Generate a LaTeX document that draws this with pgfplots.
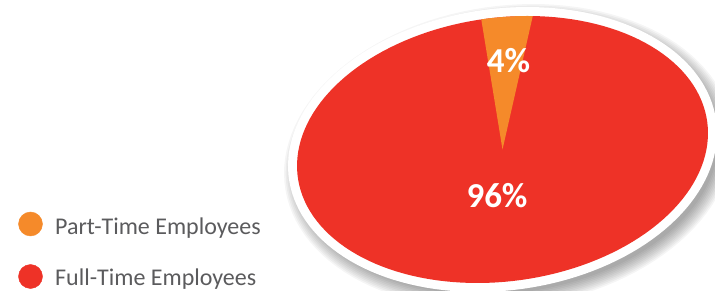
\documentclass[border=0pt]{standalone}
\usepackage{pgfplots}
\pgfplotsset{compat=1.18}
\usepackage{pgfplotstable}
\usepackage{fontspec}
\setmainfont{Carlito}
\definecolor{ptorange}{HTML}{F58A2A}
\definecolor{ftred}{HTML}{EE3227}
\definecolor{legtext}{HTML}{5B5B5D}

\pgfplotstableread{
label value
Part-Time 4
Full-Time 96
}\piedata

\begin{document}
\begin{tikzpicture}
\pgfplotstablegetelem{0}{value}\of\piedata \let\vPart\pgfplotsretval
\pgfplotstablegetelem{1}{value}\of\piedata \let\vFull\pgfplotsretval
\pgfmathsetmacro{\tStart}{76.6}
\pgfmathsetmacro{\tEnd}{\tStart+360*\vPart/(\vPart+\vFull)}
\def\cx{502.5}\def\cy{149.5}\def\ea{206.6}\def\eb{131.8}\def\rot{7.7}
\useasboundingbox (0,0) rectangle (715pt,291pt);
\begin{axis}[scale only axis, width=715pt, height=291pt,
  xmin=0, xmax=715, ymin=0, ymax=291, y dir=reverse, hide axis, clip=false]
% shadow
\pgfplotsinvokeforeach{1,...,10}{
\addplot[fill=black, fill opacity=0.04, draw=none, domain=0:360, samples=120, variable=\t]
 ({\cx+6 + (\ea+3+#1*1.6)*cos(\t)*cos(\rot) - (\eb+3+#1*1.6)*sin(\t)*sin(\rot)},
  {\cy+7 - ((\ea+3+#1*1.6)*cos(\t)*sin(\rot) + (\eb+3+#1*1.6)*sin(\t)*cos(\rot))}) -- cycle;
}
% white rim
\addplot[fill=white, draw=none, domain=0:360, samples=150, variable=\t]
 ({\cx + (\ea+9)*cos(\t)*cos(\rot) - (\eb+9)*sin(\t)*sin(\rot)},
  {\cy - ((\ea+9)*cos(\t)*sin(\rot) + (\eb+9)*sin(\t)*cos(\rot))}) -- cycle;
% full-time slice (whole ellipse)
\addplot[fill=ftred, draw=none, domain=0:360, samples=150, variable=\t]
 ({\cx + \ea*cos(\t)*cos(\rot) - \eb*sin(\t)*sin(\rot)},
  {\cy - (\ea*cos(\t)*sin(\rot) + \eb*sin(\t)*cos(\rot))}) -- cycle;
% part-time slice
\addplot[fill=ptorange, draw=none, domain=\tStart:\tEnd, samples=20, variable=\t]
 ({\cx + \ea*cos(\t)*cos(\rot) - \eb*sin(\t)*sin(\rot)},
  {\cy - (\ea*cos(\t)*sin(\rot) + \eb*sin(\t)*cos(\rot))}) -- (axis cs:\cx,\cy) -- cycle;
\node[text=white, font=\bfseries\fontsize{35}{40}\selectfont] at (axis cs:497,196) {96\%};
\node[text=white, font=\bfseries\fontsize{35}{40}\selectfont] at (axis cs:508.5,61) {4\%};
% legend
\addplot[only marks, mark=*, mark size=12pt, color=ptorange] coordinates {(30.5,224)};
\addplot[only marks, mark=*, mark size=12pt, color=ftred] coordinates {(30.5,276.5)};
\node[anchor=base west, text=legtext, font=\fontsize{24}{28}\selectfont, inner sep=0pt] at (axis cs:55,235) {Part-Time Employees};
\node[anchor=base west, text=legtext, font=\fontsize{24}{28}\selectfont, inner sep=0pt] at (axis cs:55,285) {Full-Time Employees};
\end{axis}
\end{tikzpicture}
\end{document}
